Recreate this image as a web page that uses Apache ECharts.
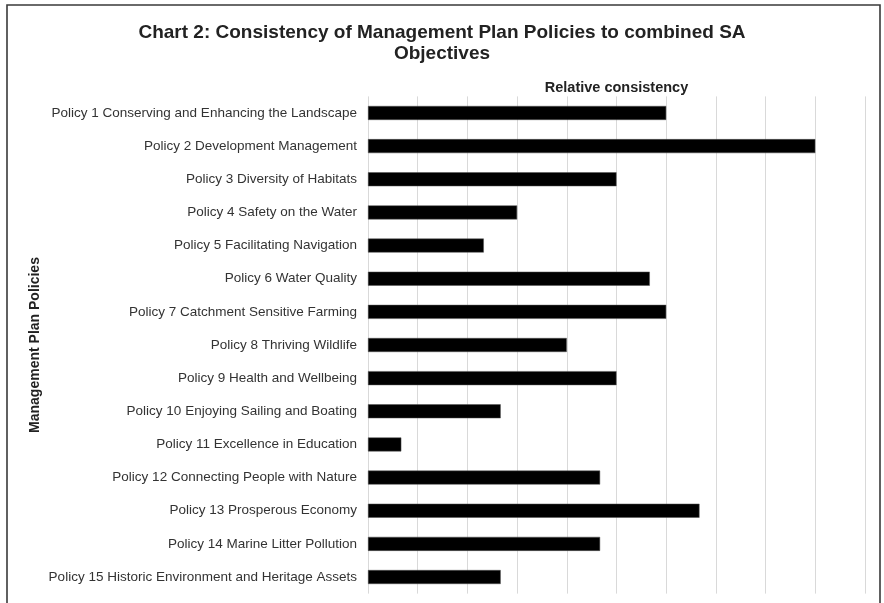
<!DOCTYPE html>
<html>
<head>
<meta charset="utf-8">
<script src="https://cdn.jsdelivr.net/npm/echarts@6/dist/echarts.min.js"></script>
<style>
html,body{margin:0;padding:0;background:#fff;}
#c{width:884px;height:603px;}
</style>
</head>
<body>
<div id="c"></div>
<script>
const categories = [
  "Policy 1 Conserving and Enhancing the Landscape",
  "Policy 2 Development Management",
  "Policy 3 Diversity of Habitats",
  "Policy 4 Safety on the Water",
  "Policy 5 Facilitating Navigation",
  "Policy 6 Water Quality",
  "Policy 7 Catchment Sensitive Farming",
  "Policy 8 Thriving Wildlife",
  "Policy 9 Health and Wellbeing",
  "Policy 10 Enjoying Sailing and Boating",
  "Policy 11 Excellence in Education",
  "Policy 12 Connecting People with Nature",
  "Policy 13 Prosperous Economy",
  "Policy 14 Marine Litter Pollution",
  "Policy 15 Historic Environment and Heritage Assets"
];
const consistency = [6, 9, 5, 3, 2.33, 5.67, 6, 4, 5, 2.67, 0.67, 4.67, 6.67, 4.67, 2.67];

const chart = echarts.init(document.getElementById('c'), null, {renderer: 'canvas'});
const fontFam = '"Liberation Sans", Arial, Helvetica, sans-serif';
chart.setOption({
  animation: false,
  backgroundColor: '#fff',
  textStyle: {fontFamily: fontFam},
  title: {
    text: 'Chart 2: Consistency of Management Plan Policies to combined SA\nObjectives',
    left: 'center',
    top: 17,
    textStyle: {fontSize: 19, fontWeight: 'bold', color: '#222', lineHeight: 21, fontFamily: fontFam}
  },
  graphic: [{
    type: 'rect',
    shape: {x: 7, y: 5, width: 873, height: 640},
    style: {fill: 'none', stroke: '#3a3a3a', lineWidth: 1.6},
    silent: true
  }],
  grid: {left: 368, right: 19, top: 96.4, bottom: 9.4},
  xAxis: {
    type: 'value',
    position: 'top',
    min: 0, max: 10, interval: 1,
    name: 'Relative consistency',
    nameLocation: 'middle',
    nameGap: 1,
    nameTextStyle: {fontSize: 14.5, fontWeight: 'bold', color: '#222'},
    axisLabel: {show: false},
    axisLine: {show: false},
    axisTick: {show: false},
    splitLine: {show: true, lineStyle: {color: '#d9d9d9', width: 1}}
  },
  yAxis: {
    type: 'category',
    data: categories,
    inverse: true,
    name: 'Management Plan Policies',
    nameLocation: 'middle',
    nameGap: 326,
    nameMoveOverlap: false,
    nameRotate: 90,
    nameTextStyle: {fontSize: 14, fontWeight: 'bold', color: '#222'},
    axisLine: {show: false},
    axisTick: {show: false},
    axisLabel: {fontSize: 13.5, color: '#333', margin: 11}
  },
  series: [{
    type: 'bar',
    data: consistency,
    barWidth: 14,
    itemStyle: {color: '#000', borderColor: '#555', borderWidth: 0.5}
  }]
});
</script>
</body>
</html>
